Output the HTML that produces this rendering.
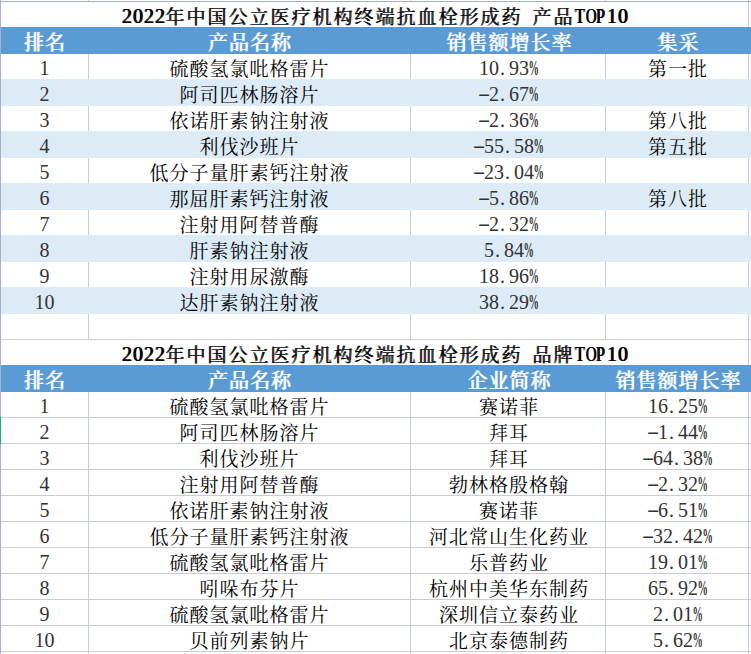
<!DOCTYPE html>
<html><head><meta charset="utf-8"><title>抗血栓形成药 TOP10</title><style>
html,body{margin:0;padding:0;background:#fff}
#s{position:relative;width:751px;height:654px;overflow:hidden;background:#fff}
#s i{position:absolute;display:block}
.t,.th,.tt{position:absolute;height:25px;text-align:center;white-space:nowrap;padding-left:1px;box-sizing:border-box;
 font-family:"Liberation Serif","Noto Serif CJK SC",serif;font-size:19px;letter-spacing:1px;line-height:31px;color:#000;font-weight:400}
.th{color:#fff;font-weight:400;letter-spacing:1px;padding-left:1px;font-size:20px;line-height:31px;text-shadow:1px 0 0 #fff}
.tt{font-weight:300;letter-spacing:2px;padding-left:2px;font-size:19px;line-height:31px;text-shadow:1px 0 0 #000}
.tt b.h{vertical-align:1px}
b.h{display:inline-block;line-height:20px;width:10px;text-align:center;font-weight:inherit;font-size:20px;letter-spacing:0}
.tt b.h,.th b.h{width:11px}
.t b.h{color:#333;vertical-align:1px}
b.p{transform:translateX(-2.8px) scaleX(0.52);font-weight:700}
b.m{transform:translate(0px,-1px) scaleX(1.9)}
b.d{text-align:left;text-indent:1px}
b.uT{transform:translateX(0.5px) scaleX(0.8)}
b.uO{transform:scaleX(0.74)}
b.uP{transform:translateX(-0.5px) scaleX(0.8)}
.tt b.s{width:10px}
.tp{position:relative;left:-1px}
</style></head>
<body><div id="s">
<i style="left:1px;top:27px;width:750px;height:27px;background:#5B9BD5"></i>
<i style="left:1px;top:365px;width:750px;height:27px;background:#5B9BD5"></i>
<i style="left:1px;top:79px;width:750px;height:27px;background:#DDEBF7"></i>
<i style="left:1px;top:131px;width:750px;height:27px;background:#DDEBF7"></i>
<i style="left:1px;top:183px;width:750px;height:27px;background:#DDEBF7"></i>
<i style="left:1px;top:235px;width:750px;height:27px;background:#DDEBF7"></i>
<i style="left:1px;top:287px;width:750px;height:27px;background:#DDEBF7"></i>
<i style="left:0;top:1px;width:751px;height:1px;background:#A7B0C8"></i>
<i style="left:1px;top:339px;width:750px;height:1px;background:#C6CBDE"></i>
<i style="left:1px;top:417px;width:750px;height:1px;background:#C6CBDE"></i>
<i style="left:1px;top:443px;width:750px;height:1px;background:#C6CBDE"></i>
<i style="left:1px;top:469px;width:750px;height:1px;background:#C6CBDE"></i>
<i style="left:1px;top:495px;width:750px;height:1px;background:#C6CBDE"></i>
<i style="left:1px;top:521px;width:750px;height:1px;background:#C6CBDE"></i>
<i style="left:1px;top:547px;width:750px;height:1px;background:#C6CBDE"></i>
<i style="left:1px;top:573px;width:750px;height:1px;background:#C6CBDE"></i>
<i style="left:1px;top:599px;width:750px;height:1px;background:#C6CBDE"></i>
<i style="left:1px;top:625px;width:750px;height:1px;background:#C6CBDE"></i>
<i style="left:1px;top:651px;width:750px;height:1px;background:#C6CBDE"></i>
<i style="left:748px;top:2px;width:1px;height:25px;background:#C6CBDE"></i>
<i style="left:88px;top:54px;width:1px;height:25px;background:#C6CBDE"></i>
<i style="left:410px;top:54px;width:1px;height:25px;background:#C6CBDE"></i>
<i style="left:605px;top:54px;width:1px;height:25px;background:#C6CBDE"></i>
<i style="left:748px;top:54px;width:1px;height:25px;background:#C6CBDE"></i>
<i style="left:88px;top:106px;width:1px;height:25px;background:#C6CBDE"></i>
<i style="left:410px;top:106px;width:1px;height:25px;background:#C6CBDE"></i>
<i style="left:605px;top:106px;width:1px;height:25px;background:#C6CBDE"></i>
<i style="left:748px;top:106px;width:1px;height:25px;background:#C6CBDE"></i>
<i style="left:88px;top:158px;width:1px;height:25px;background:#C6CBDE"></i>
<i style="left:410px;top:158px;width:1px;height:25px;background:#C6CBDE"></i>
<i style="left:605px;top:158px;width:1px;height:25px;background:#C6CBDE"></i>
<i style="left:748px;top:158px;width:1px;height:25px;background:#C6CBDE"></i>
<i style="left:88px;top:210px;width:1px;height:25px;background:#C6CBDE"></i>
<i style="left:410px;top:210px;width:1px;height:25px;background:#C6CBDE"></i>
<i style="left:605px;top:210px;width:1px;height:25px;background:#C6CBDE"></i>
<i style="left:748px;top:210px;width:1px;height:25px;background:#C6CBDE"></i>
<i style="left:88px;top:262px;width:1px;height:25px;background:#C6CBDE"></i>
<i style="left:410px;top:262px;width:1px;height:25px;background:#C6CBDE"></i>
<i style="left:605px;top:262px;width:1px;height:25px;background:#C6CBDE"></i>
<i style="left:748px;top:262px;width:1px;height:25px;background:#C6CBDE"></i>
<i style="left:88px;top:314px;width:1px;height:26px;background:#C6CBDE"></i>
<i style="left:410px;top:314px;width:1px;height:26px;background:#C6CBDE"></i>
<i style="left:605px;top:314px;width:1px;height:26px;background:#C6CBDE"></i>
<i style="left:748px;top:314px;width:1px;height:26px;background:#C6CBDE"></i>
<i style="left:748px;top:340px;width:1px;height:25px;background:#C6CBDE"></i>
<i style="left:88px;top:392px;width:1px;height:26px;background:#C6CBDE"></i>
<i style="left:410px;top:392px;width:1px;height:26px;background:#C6CBDE"></i>
<i style="left:605px;top:392px;width:1px;height:26px;background:#C6CBDE"></i>
<i style="left:748px;top:392px;width:1px;height:26px;background:#C6CBDE"></i>
<i style="left:88px;top:418px;width:1px;height:26px;background:#C6CBDE"></i>
<i style="left:410px;top:418px;width:1px;height:26px;background:#C6CBDE"></i>
<i style="left:605px;top:418px;width:1px;height:26px;background:#C6CBDE"></i>
<i style="left:748px;top:418px;width:1px;height:26px;background:#C6CBDE"></i>
<i style="left:88px;top:444px;width:1px;height:26px;background:#C6CBDE"></i>
<i style="left:410px;top:444px;width:1px;height:26px;background:#C6CBDE"></i>
<i style="left:605px;top:444px;width:1px;height:26px;background:#C6CBDE"></i>
<i style="left:748px;top:444px;width:1px;height:26px;background:#C6CBDE"></i>
<i style="left:88px;top:470px;width:1px;height:26px;background:#C6CBDE"></i>
<i style="left:410px;top:470px;width:1px;height:26px;background:#C6CBDE"></i>
<i style="left:605px;top:470px;width:1px;height:26px;background:#C6CBDE"></i>
<i style="left:748px;top:470px;width:1px;height:26px;background:#C6CBDE"></i>
<i style="left:88px;top:496px;width:1px;height:26px;background:#C6CBDE"></i>
<i style="left:410px;top:496px;width:1px;height:26px;background:#C6CBDE"></i>
<i style="left:605px;top:496px;width:1px;height:26px;background:#C6CBDE"></i>
<i style="left:748px;top:496px;width:1px;height:26px;background:#C6CBDE"></i>
<i style="left:88px;top:522px;width:1px;height:26px;background:#C6CBDE"></i>
<i style="left:410px;top:522px;width:1px;height:26px;background:#C6CBDE"></i>
<i style="left:605px;top:522px;width:1px;height:26px;background:#C6CBDE"></i>
<i style="left:748px;top:522px;width:1px;height:26px;background:#C6CBDE"></i>
<i style="left:88px;top:548px;width:1px;height:26px;background:#C6CBDE"></i>
<i style="left:410px;top:548px;width:1px;height:26px;background:#C6CBDE"></i>
<i style="left:605px;top:548px;width:1px;height:26px;background:#C6CBDE"></i>
<i style="left:748px;top:548px;width:1px;height:26px;background:#C6CBDE"></i>
<i style="left:88px;top:574px;width:1px;height:26px;background:#C6CBDE"></i>
<i style="left:410px;top:574px;width:1px;height:26px;background:#C6CBDE"></i>
<i style="left:605px;top:574px;width:1px;height:26px;background:#C6CBDE"></i>
<i style="left:748px;top:574px;width:1px;height:26px;background:#C6CBDE"></i>
<i style="left:88px;top:600px;width:1px;height:26px;background:#C6CBDE"></i>
<i style="left:410px;top:600px;width:1px;height:26px;background:#C6CBDE"></i>
<i style="left:605px;top:600px;width:1px;height:26px;background:#C6CBDE"></i>
<i style="left:748px;top:600px;width:1px;height:26px;background:#C6CBDE"></i>
<i style="left:88px;top:626px;width:1px;height:26px;background:#C6CBDE"></i>
<i style="left:410px;top:626px;width:1px;height:26px;background:#C6CBDE"></i>
<i style="left:605px;top:626px;width:1px;height:26px;background:#C6CBDE"></i>
<i style="left:748px;top:626px;width:1px;height:26px;background:#C6CBDE"></i>
<i style="left:88px;top:652px;width:1px;height:3px;background:#C6CBDE"></i>
<i style="left:410px;top:652px;width:1px;height:3px;background:#C6CBDE"></i>
<i style="left:605px;top:652px;width:1px;height:3px;background:#C6CBDE"></i>
<i style="left:748px;top:652px;width:1px;height:3px;background:#C6CBDE"></i>
<i style="left:88px;top:0px;width:1px;height:1px;background:#C6CBDE"></i>
<i style="left:410px;top:0px;width:1px;height:1px;background:#C6CBDE"></i>
<i style="left:605px;top:0px;width:1px;height:1px;background:#C6CBDE"></i>
<i style="left:748px;top:0px;width:1px;height:1px;background:#C6CBDE"></i>
<i style="left:0;top:0;width:1px;height:654px;background:#A7B0C8"></i>
<i style="left:0;top:417px;width:1px;height:27px;background:#12B46C"></i>
<div class="tt" style="left:0px;width:748px;top:2px"><b class="h">2</b><b class="h">0</b><b class="h">2</b><b class="h">2</b>年中国公立医疗机构终端抗血栓形成药<b class="h s"> </b>产品<span class="tp"><b class="h uT">T</b><b class="h uO">O</b><b class="h uP">P</b><b class="h">1</b><b class="h">0</b></span></div>
<div class="th" style="left:0px;width:88px;top:28px">排名</div>
<div class="th" style="left:88px;width:322px;top:28px">产品名称</div>
<div class="th" style="left:411px;width:195px;top:28px">销售额增长率</div>
<div class="th" style="left:606px;width:143px;top:28px">集采</div>
<div class="t" style="left:0px;width:88px;top:54px"><b class="h">1</b></div>
<div class="t" style="left:88px;width:322px;top:54px">硫酸氢氯吡格雷片</div>
<div class="t" style="left:411px;width:195px;top:54px"><b class="h">1</b><b class="h">0</b><b class="h d">.</b><b class="h">9</b><b class="h">3</b><b class="h p">%</b></div>
<div class="t" style="left:606px;width:143px;top:54px">第一批</div>
<div class="t" style="left:0px;width:88px;top:80px"><b class="h">2</b></div>
<div class="t" style="left:88px;width:322px;top:80px">阿司匹林肠溶片</div>
<div class="t" style="left:411px;width:195px;top:80px"><b class="h m">-</b><b class="h">2</b><b class="h d">.</b><b class="h">6</b><b class="h">7</b><b class="h p">%</b></div>
<div class="t" style="left:0px;width:88px;top:106px"><b class="h">3</b></div>
<div class="t" style="left:88px;width:322px;top:106px">依诺肝素钠注射液</div>
<div class="t" style="left:411px;width:195px;top:106px"><b class="h m">-</b><b class="h">2</b><b class="h d">.</b><b class="h">3</b><b class="h">6</b><b class="h p">%</b></div>
<div class="t" style="left:606px;width:143px;top:106px">第八批</div>
<div class="t" style="left:0px;width:88px;top:132px"><b class="h">4</b></div>
<div class="t" style="left:88px;width:322px;top:132px">利伐沙班片</div>
<div class="t" style="left:411px;width:195px;top:132px"><b class="h m">-</b><b class="h">5</b><b class="h">5</b><b class="h d">.</b><b class="h">5</b><b class="h">8</b><b class="h p">%</b></div>
<div class="t" style="left:606px;width:143px;top:132px">第五批</div>
<div class="t" style="left:0px;width:88px;top:158px"><b class="h">5</b></div>
<div class="t" style="left:88px;width:322px;top:158px">低分子量肝素钙注射液</div>
<div class="t" style="left:411px;width:195px;top:158px"><b class="h m">-</b><b class="h">2</b><b class="h">3</b><b class="h d">.</b><b class="h">0</b><b class="h">4</b><b class="h p">%</b></div>
<div class="t" style="left:0px;width:88px;top:184px"><b class="h">6</b></div>
<div class="t" style="left:88px;width:322px;top:184px">那屈肝素钙注射液</div>
<div class="t" style="left:411px;width:195px;top:184px"><b class="h m">-</b><b class="h">5</b><b class="h d">.</b><b class="h">8</b><b class="h">6</b><b class="h p">%</b></div>
<div class="t" style="left:606px;width:143px;top:184px">第八批</div>
<div class="t" style="left:0px;width:88px;top:210px"><b class="h">7</b></div>
<div class="t" style="left:88px;width:322px;top:210px">注射用阿替普酶</div>
<div class="t" style="left:411px;width:195px;top:210px"><b class="h m">-</b><b class="h">2</b><b class="h d">.</b><b class="h">3</b><b class="h">2</b><b class="h p">%</b></div>
<div class="t" style="left:0px;width:88px;top:236px"><b class="h">8</b></div>
<div class="t" style="left:88px;width:322px;top:236px">肝素钠注射液</div>
<div class="t" style="left:411px;width:195px;top:236px"><b class="h">5</b><b class="h d">.</b><b class="h">8</b><b class="h">4</b><b class="h p">%</b></div>
<div class="t" style="left:0px;width:88px;top:262px"><b class="h">9</b></div>
<div class="t" style="left:88px;width:322px;top:262px">注射用尿激酶</div>
<div class="t" style="left:411px;width:195px;top:262px"><b class="h">1</b><b class="h">8</b><b class="h d">.</b><b class="h">9</b><b class="h">6</b><b class="h p">%</b></div>
<div class="t" style="left:0px;width:88px;top:288px"><b class="h">1</b><b class="h">0</b></div>
<div class="t" style="left:88px;width:322px;top:288px">达肝素钠注射液</div>
<div class="t" style="left:411px;width:195px;top:288px"><b class="h">3</b><b class="h">8</b><b class="h d">.</b><b class="h">2</b><b class="h">9</b><b class="h p">%</b></div>
<div class="tt" style="left:0px;width:748px;top:340px"><b class="h">2</b><b class="h">0</b><b class="h">2</b><b class="h">2</b>年中国公立医疗机构终端抗血栓形成药<b class="h s"> </b>品牌<span class="tp"><b class="h uT">T</b><b class="h uO">O</b><b class="h uP">P</b><b class="h">1</b><b class="h">0</b></span></div>
<div class="th" style="left:0px;width:88px;top:366px">排名</div>
<div class="th" style="left:88px;width:322px;top:366px">产品名称</div>
<div class="th" style="left:411px;width:195px;top:366px">企业简称</div>
<div class="th" style="left:606px;width:143px;top:366px">销售额增长率</div>
<div class="t" style="left:0px;width:88px;top:392px"><b class="h">1</b></div>
<div class="t" style="left:88px;width:322px;top:392px">硫酸氢氯吡格雷片</div>
<div class="t" style="left:411px;width:195px;top:392px">赛诺菲</div>
<div class="t" style="left:606px;width:143px;top:392px"><b class="h">1</b><b class="h">6</b><b class="h d">.</b><b class="h">2</b><b class="h">5</b><b class="h p">%</b></div>
<div class="t" style="left:0px;width:88px;top:418px"><b class="h">2</b></div>
<div class="t" style="left:88px;width:322px;top:418px">阿司匹林肠溶片</div>
<div class="t" style="left:411px;width:195px;top:418px">拜耳</div>
<div class="t" style="left:606px;width:143px;top:418px"><b class="h m">-</b><b class="h">1</b><b class="h d">.</b><b class="h">4</b><b class="h">4</b><b class="h p">%</b></div>
<div class="t" style="left:0px;width:88px;top:444px"><b class="h">3</b></div>
<div class="t" style="left:88px;width:322px;top:444px">利伐沙班片</div>
<div class="t" style="left:411px;width:195px;top:444px">拜耳</div>
<div class="t" style="left:606px;width:143px;top:444px"><b class="h m">-</b><b class="h">6</b><b class="h">4</b><b class="h d">.</b><b class="h">3</b><b class="h">8</b><b class="h p">%</b></div>
<div class="t" style="left:0px;width:88px;top:470px"><b class="h">4</b></div>
<div class="t" style="left:88px;width:322px;top:470px">注射用阿替普酶</div>
<div class="t" style="left:411px;width:195px;top:470px">勃林格殷格翰</div>
<div class="t" style="left:606px;width:143px;top:470px"><b class="h m">-</b><b class="h">2</b><b class="h d">.</b><b class="h">3</b><b class="h">2</b><b class="h p">%</b></div>
<div class="t" style="left:0px;width:88px;top:496px"><b class="h">5</b></div>
<div class="t" style="left:88px;width:322px;top:496px">依诺肝素钠注射液</div>
<div class="t" style="left:411px;width:195px;top:496px">赛诺菲</div>
<div class="t" style="left:606px;width:143px;top:496px"><b class="h m">-</b><b class="h">6</b><b class="h d">.</b><b class="h">5</b><b class="h">1</b><b class="h p">%</b></div>
<div class="t" style="left:0px;width:88px;top:522px"><b class="h">6</b></div>
<div class="t" style="left:88px;width:322px;top:522px">低分子量肝素钙注射液</div>
<div class="t" style="left:411px;width:195px;top:522px">河北常山生化药业</div>
<div class="t" style="left:606px;width:143px;top:522px"><b class="h m">-</b><b class="h">3</b><b class="h">2</b><b class="h d">.</b><b class="h">4</b><b class="h">2</b><b class="h p">%</b></div>
<div class="t" style="left:0px;width:88px;top:548px"><b class="h">7</b></div>
<div class="t" style="left:88px;width:322px;top:548px">硫酸氢氯吡格雷片</div>
<div class="t" style="left:411px;width:195px;top:548px">乐普药业</div>
<div class="t" style="left:606px;width:143px;top:548px"><b class="h">1</b><b class="h">9</b><b class="h d">.</b><b class="h">0</b><b class="h">1</b><b class="h p">%</b></div>
<div class="t" style="left:0px;width:88px;top:574px"><b class="h">8</b></div>
<div class="t" style="left:88px;width:322px;top:574px">吲哚布芬片</div>
<div class="t" style="left:411px;width:195px;top:574px">杭州中美华东制药</div>
<div class="t" style="left:606px;width:143px;top:574px"><b class="h">6</b><b class="h">5</b><b class="h d">.</b><b class="h">9</b><b class="h">2</b><b class="h p">%</b></div>
<div class="t" style="left:0px;width:88px;top:600px"><b class="h">9</b></div>
<div class="t" style="left:88px;width:322px;top:600px">硫酸氢氯吡格雷片</div>
<div class="t" style="left:411px;width:195px;top:600px">深圳信立泰药业</div>
<div class="t" style="left:606px;width:143px;top:600px"><b class="h">2</b><b class="h d">.</b><b class="h">0</b><b class="h">1</b><b class="h p">%</b></div>
<div class="t" style="left:0px;width:88px;top:626px"><b class="h">1</b><b class="h">0</b></div>
<div class="t" style="left:88px;width:322px;top:626px">贝前列素钠片</div>
<div class="t" style="left:411px;width:195px;top:626px">北京泰德制药</div>
<div class="t" style="left:606px;width:143px;top:626px"><b class="h">5</b><b class="h d">.</b><b class="h">6</b><b class="h">2</b><b class="h p">%</b></div>
</div></body></html>
